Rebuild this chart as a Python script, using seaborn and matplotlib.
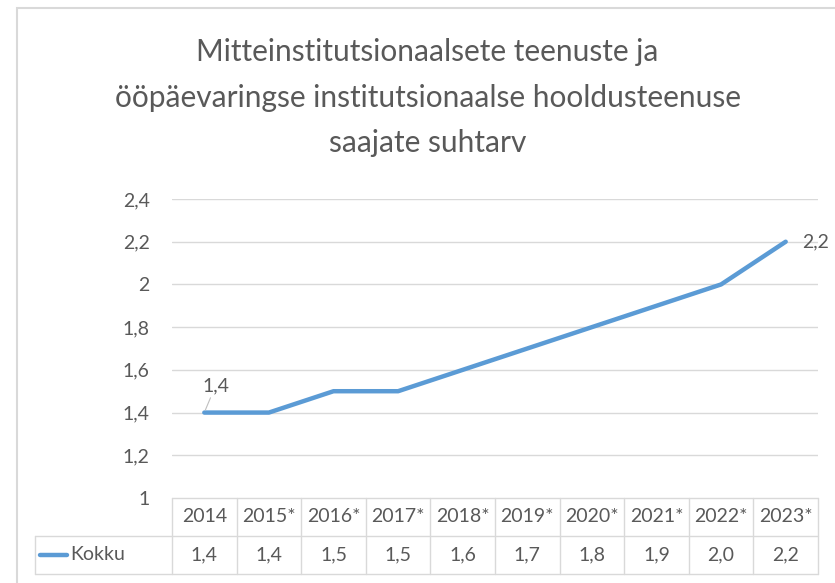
import numpy as np
import pandas as pd
import seaborn as sns
import matplotlib.pyplot as plt
from matplotlib.lines import Line2D
from matplotlib.patches import Rectangle

# data
years = ["2014", "2015*", "2016*", "2017*", "2018*", "2019*", "2020*", "2021*", "2022*", "2023*"]
kokku = [1.4, 1.4, 1.5, 1.5, 1.6, 1.7, 1.8, 1.9, 2.0, 2.2]
y_ticks = [1, 1.2, 1.4, 1.6, 1.8, 2, 2.2, 2.4]
series_name = "Kokku"
title = "Mitteinstitutsionaalsete teenuste ja\nööpäevaringse institutsionaalse hooldusteenuse\nsaajate suhtarv"

def fmt(v, dec=False):
    s = "%.1f" % v
    if not dec:
        s = s.rstrip("0").rstrip(".")
    return s.replace(".", ",")

sns.set_style("white")
plt.rcParams['font.family'] = ['Lato', 'DejaVu Sans']

blue = "#5B9BD5"
grey_txt = "#595959"
grid_c = "#D9D9D9"
fs = 14

W, H = 835, 583
fig = plt.figure(figsize=(W / 100, H / 100), dpi=100)

# chart border
fig.patches.append(Rectangle((17 / W, -0.1), 1.2, (H - 8) / H + 0.1, transform=fig.transFigure,
                             fill=False, edgecolor=grid_c, lw=1.5))

px_l, px_r, px_t, px_b = 172, 818, 199, 498
ax = fig.add_axes([px_l / W, (H - px_b) / H, (px_r - px_l) / W, (px_b - px_t) / H])

df = pd.DataFrame({"x": np.arange(len(years)), "y": kokku})
sns.lineplot(data=df, x="x", y="y", ax=ax, color=blue, lw=3.2, solid_capstyle="round")

ax.set_xlim(-0.5, len(years) - 0.5)
ax.set_ylim(y_ticks[0], y_ticks[-1])
ax.set_yticks(y_ticks)
ax.set_yticklabels([fmt(t) for t in y_ticks], fontsize=fs, color=grey_txt)
ax.tick_params(axis="y", length=0, pad=16)
ax.set_xticks([])
ax.set_xlabel("")
ax.set_ylabel("")
for t in y_ticks[1:]:
    ax.axhline(t, color=grid_c, lw=1, zorder=0)
for s in ax.spines.values():
    s.set_visible(False)

# data labels
ax.annotate(fmt(kokku[0]), xy=(0, kokku[0]), xytext=(8, 13), textcoords="offset points",
            ha="center", va="bottom", fontsize=fs, color=grey_txt,
            arrowprops=dict(arrowstyle="-", color="#BFBFBF", lw=0.8, shrinkA=0, shrinkB=2))
ax.annotate(fmt(kokku[-1]), xy=(len(years) - 1, kokku[-1]), xytext=(12, 0), textcoords="offset points",
            ha="left", va="center", fontsize=fs, color=grey_txt)

fig.text(0.512, 1 - 97.5 / H, title, ha="center", va="center", fontsize=21.5, color=grey_txt,
         linespacing=1.75)

# data table under the axis
row_h = 38 / (px_b - px_t)
tr = ax.get_xaxis_transform()
n = len(years)
col_px = (px_r - px_l) / n
left_cell = (35 - px_l) / col_px - 0.5
tbl = dict(color=grid_c, lw=1, transform=tr, clip_on=False)
ax.add_line(Line2D([-0.5, n - 0.5], [0, 0], **tbl))
ax.add_line(Line2D([left_cell, n - 0.5], [-row_h, -row_h], **tbl))
ax.add_line(Line2D([left_cell, n - 0.5], [-2 * row_h, -2 * row_h], **tbl))
for i in range(n + 1):
    ax.add_line(Line2D([i - 0.5, i - 0.5], [0, -2 * row_h], **tbl))
ax.add_line(Line2D([left_cell, left_cell], [-row_h, -2 * row_h], **tbl))
for i, (yr, v) in enumerate(zip(years, kokku)):
    ax.text(i, -0.5 * row_h, yr, transform=tr, ha="center", va="center", fontsize=fs, color=grey_txt)
    ax.text(i, -1.5 * row_h, fmt(v, dec=True), transform=tr, ha="center", va="center",
            fontsize=fs, color=grey_txt)
ax.add_line(Line2D([left_cell + 5 / col_px, left_cell + 32 / col_px], [-1.5 * row_h, -1.5 * row_h],
                   color=blue, lw=3.2, transform=tr, clip_on=False, solid_capstyle="round"))
ax.text(left_cell + 35 / col_px, -1.5 * row_h, series_name, transform=tr, ha="left", va="center",
        fontsize=fs, color=grey_txt)

fig.savefig("out.png", dpi=100)
